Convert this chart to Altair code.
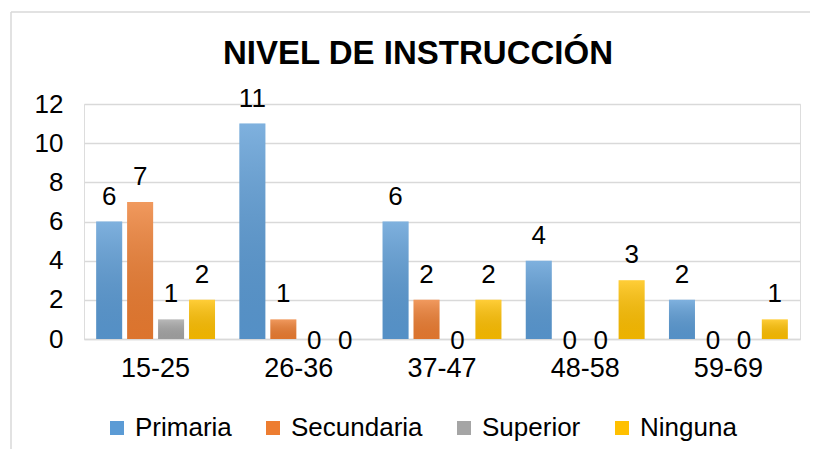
import altair as alt
import pandas as pd

groups = ["15-25", "26-36", "37-47", "48-58", "59-69"]
series = ["Primaria", "Secundaria", "Superior", "Ninguna"]
primaria = [6, 11, 6, 4, 2]
secundaria = [7, 1, 2, 0, 0]
superior = [1, 0, 0, 0, 0]
ninguna = [2, 0, 2, 3, 1]
colors = ["#5B9BD5", "#ED7D31", "#A5A5A5", "#FFC000"]
y_ticks = [0, 2, 4, 6, 8, 10, 12]
title_text = "NIVEL DE INSTRUCCIÓN"

rows = []
for s, vals in zip(series, [primaria, secundaria, superior, ninguna]):
    for g, v in zip(groups, vals):
        rows.append({"grupo": g, "serie": s, "valor": v})
df = pd.DataFrame(rows)

FONT = "Liberation Sans"

x_axis = alt.Axis(labelAngle=0, labelFontSize=27, labelFont=FONT,
                  labelColor="#000000", labelPadding=16, ticks=False,
                  domainColor="#d9d9d9", domainWidth=1.5, grid=False)
y_axis = alt.Axis(values=y_ticks, labelOverlap=False, labelFontSize=26,
                  labelFont=FONT, labelColor="#000000", labelPadding=21,
                  ticks=False, domain=False, gridColor="#d9d9d9", gridWidth=1.5)
x_scale = alt.Scale(paddingInner=0.17, paddingOuter=0.085)
y_scale = alt.Scale(domain=[0, 12], nice=False)

x_enc = alt.X("grupo:N", sort=groups, title=None, scale=x_scale, axis=x_axis)
xo_enc = alt.XOffset("serie:N", sort=series,
                     scale=alt.Scale(paddingInner=0.16, paddingOuter=0))
y_enc = alt.Y("valor:Q", title=None, scale=y_scale, axis=y_axis)
color_enc = alt.Color("serie:N", sort=series,
                      scale=alt.Scale(domain=series, range=colors),
                      legend=alt.Legend(title=None, orient="none", direction="horizontal",
                                        legendX=20, legendY=311,
                                        symbolType="square", symbolSize=196,
                                        symbolStrokeWidth=0, symbolOpacity=1,
                                        labelFontSize=26, labelFont=FONT,
                                        labelColor="#000000", labelOffset=5,
                                        columnPadding=28))

base = alt.Chart(df)
bars = base.mark_bar().encode(x=x_enc, xOffset=xo_enc, y=y_enc, color=color_enc)

shade = alt.Gradient(
    gradient="linear", x1=0, y1=0, x2=0, y2=1,
    stops=[alt.GradientStop(offset=0, color="rgba(255,255,255,0.22)"),
           alt.GradientStop(offset=1, color="rgba(0,0,0,0.07)")])
bars_shade = base.mark_bar(fill=shade).encode(
    x=x_enc, xOffset=xo_enc, y=y_enc
).transform_filter("datum.valor > 0")

labels = base.mark_text(fontSize=26, font=FONT, color="#000000", dy=-17,
                        baseline="alphabetic").encode(
    x=x_enc, xOffset=xo_enc, y=y_enc, text="valor:Q"
).transform_filter("datum.valor > 0")

zeros = base.mark_text(fontSize=26, font=FONT, color="#000000", dy=10,
                       baseline="alphabetic").encode(
    x=x_enc, xOffset=xo_enc, y=y_enc, text="valor:Q"
).transform_filter("datum.valor == 0")

frame = pd.DataFrame({"t": [title_text]})
title_mark = alt.Chart(frame).mark_text(
    fontSize=33, font=FONT, fontWeight="bold", color="#000000",
    align="center", baseline="alphabetic").encode(
    x=alt.value(334), y=alt.value(-40), text="t:N")
top_line = alt.Chart(frame).mark_rule(color="#d9d9d9", strokeWidth=1.5).encode(
    x=alt.value(-73), x2=alt.value(730), y=alt.value(-92))
left_line = alt.Chart(frame).mark_rule(color="#d9d9d9", strokeWidth=1.5).encode(
    x=alt.value(-73), y=alt.value(-92), y2=alt.value(360))

chart = alt.layer(bars, bars_shade, labels, zeros, top_line, left_line, title_mark).properties(
    width=716, height=235,
    autosize=alt.AutoSizeParams(type="none"),
    padding={"left": 76, "top": 96, "right": 10, "bottom": 110},
).configure_view(stroke=None).configure(background="#ffffff")

chart.save("out.html", embed_options={"renderer": "svg", "actions": False})
